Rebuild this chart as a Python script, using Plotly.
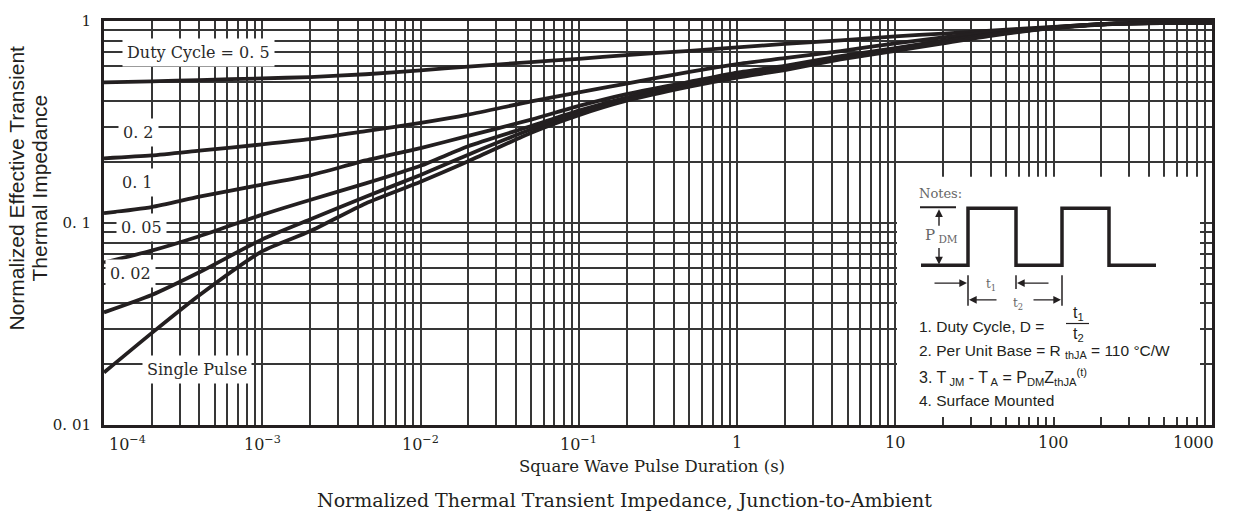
import plotly.graph_objects as go

# Pulse duration (s) sample points and normalized Zth for each duty cycle
pulse_s = [1e-4, 2e-4, 4e-4, 1e-3, 2e-3, 4.5e-3, 1e-2, 2e-2, 5e-2, 0.1, 0.2,
           0.5, 1, 2, 4.5, 10, 20, 40, 100, 250, 1000]

z_d050 = [0.497, 0.503, 0.510, 0.520, 0.528, 0.545, 0.570, 0.595, 0.626, 0.650, 0.678,
          0.712, 0.740, 0.770, 0.802, 0.840, 0.866, 0.896, 0.935, 0.972, 0.983]
z_d020 = [0.209, 0.216, 0.228, 0.245, 0.260, 0.285, 0.313, 0.344, 0.400, 0.443, 0.490,
          0.560, 0.612, 0.655, 0.710, 0.775, 0.830, 0.880, 0.932, 0.972, 0.983]
z_d010 = [0.112, 0.120, 0.135, 0.155, 0.172, 0.204, 0.235, 0.270, 0.325, 0.380, 0.435,
          0.500, 0.555, 0.600, 0.670, 0.735, 0.800, 0.860, 0.928, 0.972, 0.983]
z_d005 = [0.0638, 0.073, 0.086, 0.110, 0.130, 0.157, 0.192, 0.240, 0.302, 0.360, 0.418,
          0.490, 0.545, 0.595, 0.660, 0.730, 0.795, 0.857, 0.926, 0.971, 0.983]
z_d002 = [0.0361, 0.044, 0.057, 0.083, 0.104, 0.135, 0.173, 0.218, 0.291, 0.350, 0.410,
          0.480, 0.535, 0.585, 0.652, 0.722, 0.788, 0.853, 0.924, 0.970, 0.983]
z_single = [0.0182, 0.0285, 0.0439, 0.0725, 0.091, 0.125, 0.160, 0.202, 0.280, 0.342, 0.403,
            0.473, 0.525, 0.572, 0.645, 0.712, 0.775, 0.845, 0.922, 0.969, 0.983]

series = [z_d050, z_d020, z_d010, z_d005, z_d002, z_single]

# Curve captions: text and centre position (pixels)
curve_labels = ["Duty Cycle = 0. 5", "0. 2", "0. 1", "0. 05", "0. 02", "Single Pulse"]
label_pos = [(198, 47), (138, 128), (137, 179), (141, 225), (130, 271), (197, 369)]

x_decades = [-4, -3, -2, -1, 0, 1, 2, 3]
x_tick_text = ["10<sup>\u22124</sup>", "10<sup>\u22123</sup>", "10<sup>\u22122</sup>",
               "10<sup>\u22121</sup>", "1", "10", "100", "1000"]
y_tick_text = {0.01: "0. 01", 0.1: "0. 1", 1: "1"}

INK = "#231f20"
GRID = "#363636"
SERIF = "DejaVu Serif"
SANS = "Liberation Sans"

# plot-area edges in pixels
L, R, T, B = 104, 1212, 15, 425


def px(x):
    return (x - L) / (R - L)


def py(y):
    return (B - y) / (B - T)


grid_x = [k * 10.0 ** d for d in range(-4, 3) for k in range(1, 10)] + [1000]
grid_y = [k * 10.0 ** d for d in range(-2, 0) for k in range(1, 10)] + [1]

fig = go.Figure()
for ys in series:
    fig.add_trace(go.Scatter(x=pulse_s, y=ys, mode="lines",
                             line=dict(color=INK, width=3.8, shape="spline", smoothing=0.6),
                             hoverinfo="skip"))

fig.update_xaxes(type="log", range=[-4, 3], tickvals=grid_x, showticklabels=False,
                 showgrid=True, gridcolor=GRID, gridwidth=1.5, ticks="",
                 showline=True, linecolor=INK, linewidth=3, mirror=True, zeroline=False)
fig.update_yaxes(type="log", range=[-2, 0], tickvals=grid_y,
                 ticktext=[y_tick_text.get(round(v, 6), "") for v in grid_y],
                 tickfont=dict(family=SERIF, size=15, color=INK), ticks="",
                 ticklabelstandoff=7,
                 showgrid=True, gridcolor=GRID, gridwidth=1.5,
                 showline=True, linecolor=INK, linewidth=3, mirror=True, zeroline=False)

ann = []
# x tick labels
for d, t in zip(x_decades, x_tick_text):
    anchor = "left" if d == -4 else ("right" if d == 3 else "center")
    shift = 3 if d == -4 else (4 if d == 3 else 0)
    ann.append(dict(x=d, y=0, xref="x", yref="paper", text=t, showarrow=False,
                    xanchor=anchor, yanchor="top", xshift=shift, yshift=-6,
                    font=dict(family=SERIF, size=16, color=INK)))

# curve captions on white boxes
for t, (cx, cy) in zip(curve_labels, label_pos):
    ann.append(dict(x=px(cx), y=py(cy), xref="paper", yref="paper", text=t, showarrow=False,
                    xanchor="center", yanchor="middle", bgcolor="white", borderpad=4,
                    font=dict(family=SERIF, size=16, color="#2a2a2a")))

# axis titles and caption
for t, cx in [("Normalized Effective Transient", 17), ("Thermal Impedance", 40)]:
    ann.append(dict(x=px(cx), y=py(185), xref="paper", yref="paper", textangle=-90,
                    text=t, showarrow=False, xanchor="center", yanchor="middle",
                    font=dict(family=SANS, size=21, color=INK)))
ann.append(dict(x=px(652), y=py(467), xref="paper", yref="paper",
                text="Square Wave Pulse Duration (s)", showarrow=False,
                xanchor="center", yanchor="middle", font=dict(family=SERIF, size=16.5, color=INK)))
ann.append(dict(x=px(624), y=py(501), xref="paper", yref="paper",
                text="Normalized Thermal Transient Impedance, Junction-to-Ambient", showarrow=False,
                xanchor="center", yanchor="middle", font=dict(family=SERIF, size=19, color=INK)))

# ---- notes panel ----
shapes = [dict(type="rect", xref="paper", yref="paper", x0=px(897), x1=px(1200),
               y0=py(417), y1=py(173), fillcolor="white", line=dict(width=0), layer="above")]


def seg(x0, y0, x1, y1, w=1.5):
    return dict(type="line", xref="paper", yref="paper", x0=px(x0), y0=py(y0),
                x1=px(x1), y1=py(y1), line=dict(color=INK, width=w), layer="above")


wave = [(921, 263), (968, 263), (968, 205), (1016, 205), (1016, 263), (1062, 263),
        (1062, 205), (1109, 205), (1109, 263), (1156, 263)]
path = "M " + " L ".join(f"{px(a)},{py(b)}" for a, b in wave)
shapes.append(dict(type="path", xref="paper", yref="paper", path=path,
                   line=dict(color=INK, width=3.5), layer="above"))
shapes += [seg(920, 204, 956, 204, 2),
           seg(968, 273, 968, 304), seg(1016, 273, 1016, 287), seg(1062, 273, 1062, 304),
           seg(1066, 322, 1089, 322, 1.2)]
fig.update_layout(shapes=shapes)


def arrow(xh, yh, dx, dy):
    return dict(x=px(xh), y=py(yh), xref="paper", yref="paper", ax=dx, ay=dy, text="",
                showarrow=True, arrowhead=2, arrowsize=1.1, arrowwidth=1.4, arrowcolor=INK)


ann += [arrow(939, 206, 0, 18), arrow(939, 262, 0, -18),
        arrow(967, 281, -34, 0), arrow(1017, 281, 33, 0),
        arrow(969, 298, 29, 0), arrow(1061, 298, -29, 0)]

GRAY = "#666666"
notes_small = [("Notes:", 917, 190, SERIF, 13, GRAY, "left"),
               ("P<sub> DM</sub>", 923, 233, SERIF, 15, GRAY, "left"),
               ("t<sub>1</sub>", 991, 283, SERIF, 12, GRAY, "center"),
               ("t<sub>2</sub>", 1018, 302, SERIF, 12, GRAY, "center"),
               ("t<sub>1</sub>", 1078, 312, SANS, 16, INK, "center"),
               ("t<sub>2</sub>", 1078, 333, SANS, 16, INK, "center"),
               ("1. Duty Cycle, D =", 917, 325, SANS, 15.5, INK, "left"),
               ("2. Per Unit Base = R <sub>thJA</sub> = 110 \u00b0C/W", 917, 350, SANS, 15.5, INK, "left"),
               ("3. T<sub> JM</sub> - T<sub> A</sub> = P<sub>DM</sub>Z<sub>thJA</sub><sup>(t)</sup>",
                917, 376, SANS, 16, INK, "left"),
               ("4. Surface Mounted", 917, 400, SANS, 15.5, INK, "left")]
for t, x, y, fam, size, col, anc in notes_small:
    ann.append(dict(x=px(x), y=py(y), xref="paper", yref="paper", text=t, showarrow=False,
                    xanchor=anc, yanchor="middle", font=dict(family=fam, size=size, color=col)))

fig.update_layout(width=1246, height=518, margin=dict(l=L, r=1246 - R, t=T, b=518 - B),
                  plot_bgcolor="white", paper_bgcolor="white", showlegend=False,
                  annotations=ann)

fig.write_html("out.html")
